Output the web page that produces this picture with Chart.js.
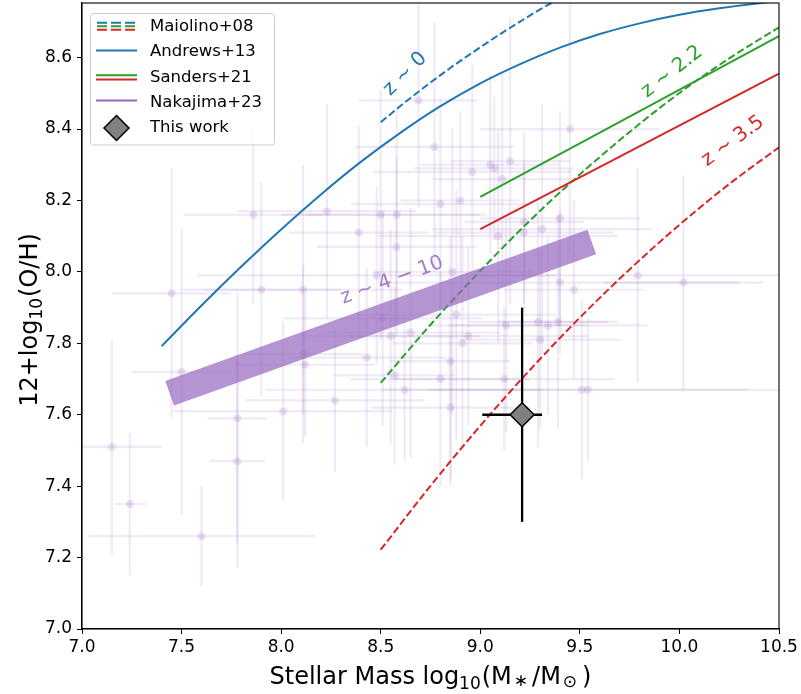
<!DOCTYPE html>
<html><head><meta charset="utf-8">
<script src="https://cdn.jsdelivr.net/npm/chart.js@4.4.0/dist/chart.umd.min.js"></script>
<style>html,body{margin:0;padding:0;background:#fff;}canvas{display:block;}</style>
</head><body>
<canvas id="c" width="801" height="694"></canvas>
<script>
// ---- tick labels ----
const xTicks = [7.0, 7.5, 8.0, 8.5, 9.0, 9.5, 10.0, 10.5];
const yTicks = [7.0, 7.2, 7.4, 7.6, 7.8, 8.0, 8.2, 8.4, 8.6];

// ---- Andrews+13 (z~0) ----
const andrewsX = [7.4, 7.6, 7.8, 8.0, 8.2, 8.4, 8.6, 8.8, 9.0, 9.2, 9.4, 9.6, 9.8, 10.0, 10.2, 10.5];
const andrewsY = [7.792, 7.906, 8.015, 8.119, 8.217, 8.308, 8.390, 8.464, 8.528, 8.582, 8.628, 8.666, 8.696, 8.720, 8.738, 8.759];

// ---- Maiolino+08 ----
const maiolinoZ0X = [8.5, 8.6, 8.7, 8.8, 8.9, 9.0, 9.1, 9.2, 9.3, 9.4];
const maiolinoZ0Y = [8.419, 8.465, 8.509, 8.551, 8.591, 8.629, 8.666, 8.701, 8.735, 8.766];
const maiolinoZ22X = [8.5, 8.75, 9.0, 9.25, 9.5, 9.75, 10.0, 10.25, 10.5];
const maiolinoZ22Y = [7.689, 7.852, 8.003, 8.144, 8.273, 8.392, 8.501, 8.598, 8.685];
const maiolinoZ35X = [8.5, 8.75, 9.0, 9.25, 9.5, 9.75, 10.0, 10.25, 10.5];
const maiolinoZ35Y = [7.222, 7.401, 7.569, 7.726, 7.872, 8.007, 8.132, 8.246, 8.349];

// ---- Sanders+21 ----
const sandersZ22X = [9.0, 10.5];
const sandersZ22Y = [8.21, 8.66];
const sandersZ35X = [9.0, 10.5];
const sandersZ35Y = [8.12, 8.555];

// ---- Nakajima+23 relation (z~4-10) ----
const nakajimaFitX = [7.44, 9.56];
const nakajimaFitY = [7.66, 8.084];

// ---- Nakajima+23 individual galaxies ----
const nakX = [7.15, 7.24, 7.60, 7.78, 7.78, 8.01, 8.27, 7.45, 7.50, 7.86, 8.23, 8.39, 8.58, 8.50, 8.58, 7.90, 8.11, 8.11, 8.12, 8.43,
              8.51, 8.62, 8.65, 8.57, 8.69, 9.45, 8.77, 8.96, 9.05, 9.07, 9.15, 9.11, 8.80, 8.90, 9.40, 9.31, 9.22, 9.09, 9.22, 9.79,
              9.47, 9.40, 8.86, 8.88, 8.91, 8.94, 8.85, 8.80, 9.13, 9.29, 9.34, 9.39, 9.30, 9.12, 9.51, 9.54, 8.85, 8.55, 10.02, 8.48];
const nakY = [7.51, 7.35, 7.26, 7.47, 7.59, 7.61, 7.64, 7.94, 7.72, 8.16, 8.17, 8.11, 8.07, 8.16, 8.16, 7.95, 7.95, 7.77, 7.74, 7.76,
              7.87, 7.67, 7.83, 7.71, 8.48, 8.40, 8.35, 8.28, 8.30, 8.29, 8.31, 8.26, 8.19, 8.20, 8.15, 8.12, 8.14, 8.10, 8.11, 7.99,
              7.95, 7.97, 8.00, 7.88, 7.80, 7.82, 7.75, 7.70, 7.85, 7.86, 7.85, 7.86, 7.81, 7.70, 7.67, 7.67, 7.62, 7.82, 7.97, 7.99];
const nakXerr = [0.25, 0.08, 0.57, 0.14, 0.15, 0.55, 0.45, 0.30, 0.25, 0.35, 0.45, 0.35, 0.40, 0.50, 0.45, 0.40, 0.50, 0.30, 0.35, 0.40,
                 0.50, 0.70, 0.45, 0.30, 0.30, 0.45, 0.40, 0.50, 0.35, 0.40, 0.30, 0.35, 0.45, 0.30, 0.40, 0.55, 0.30, 0.60, 0.45, 0.80,
                 0.35, 0.90, 0.40, 0.50, 0.35, 0.60, 0.30, 0.45, 0.40, 0.35, 0.50, 0.30, 0.40, 0.55, 1.00, 0.80, 0.40, 0.45, 0.40, 0.90];
const nakYerr = [0.30, 0.20, 0.14, 0.30, 0.35, 0.25, 0.20, 0.35, 0.40, 0.25, 0.30, 0.30, 0.25, 0.35, 0.30, 0.30, 0.35, 0.25, 0.20, 0.25,
                 0.30, 0.20, 0.35, 0.25, 0.30, 0.35, 0.35, 0.30, 0.25, 0.20, 0.40, 0.30, 0.30, 0.25, 0.30, 0.35, 0.25, 0.30, 0.20, 0.30,
                 0.25, 0.20, 0.40, 0.35, 0.30, 0.25, 0.35, 0.30, 0.30, 0.35, 0.25, 0.30, 0.25, 0.20, 0.25, 0.20, 0.20, 0.30, 0.30, 0.25];

// ---- This work ----
const thisX = [9.21];
const thisY = [7.60];
const thisXerrLo = [0.20];
const thisXerrHi = [0.10];
const thisYerrLo = [0.30];
const thisYerrHi = [0.30];

const FONT = "'DejaVu Sans', sans-serif";
const C_BLUE = '#1f77b4', C_GREEN = '#2ca02c', C_RED = '#d62728', C_PURPLE = '#9467bd';

const pts = (xs, ys) => xs.map((v, i) => ({x: v, y: ys[i]}));

function lineDs(label, xs, ys, color, dashed, order) {
  return {
    type: 'scatter', label, data: pts(xs, ys), showLine: true,
    borderColor: color, borderWidth: 2, borderDash: dashed ? [7.4, 3.2] : [],
    pointRadius: 0, pointHoverRadius: 0, cubicInterpolationMode: 'monotone', fill: false, order
  };
}

const errPlugin = {
  id: 'errbars',
  beforeDatasetDraw(chart, args) {
    const ds = chart.data.datasets[args.index];
    if (!ds.errXLo) return;
    const {ctx, chartArea: ca, scales: {x, y}} = chart;
    ctx.save();
    ctx.beginPath(); ctx.rect(ca.left, ca.top, ca.right - ca.left, ca.bottom - ca.top); ctx.clip();
    ctx.strokeStyle = ds.errColor; ctx.lineWidth = ds.errWidth; ctx.lineCap = 'butt';
    ds.data.forEach((p, i) => {
      const px = x.getPixelForValue(p.x), py = y.getPixelForValue(p.y);
      ctx.beginPath();
      ctx.moveTo(x.getPixelForValue(p.x - ds.errXLo[i]), py);
      ctx.lineTo(x.getPixelForValue(p.x + ds.errXHi[i]), py);
      ctx.stroke();
      ctx.beginPath();
      ctx.moveTo(px, y.getPixelForValue(p.y - ds.errYLo[i]));
      ctx.lineTo(px, y.getPixelForValue(p.y + ds.errYHi[i]));
      ctx.stroke();
    });
    ctx.restore();
  }
};

const annotations = [
  {text: 'z ∼ 0', x: 8.623, y: 8.554, rot: -45, color: C_BLUE},
  {text: 'z ∼ 2.2', x: 9.963, y: 8.560, rot: -38, color: C_GREEN},
  {text: 'z ∼ 3.5', x: 10.269, y: 8.366, rot: -36, color: C_RED},
  {text: 'z ∼ 4 − 10', x: 8.557, y: 7.976, rot: -20, color: 'rgba(148,103,189,0.85)'}
];

function drawRich(ctx, segs, cx, cy, rot) {
  ctx.save();
  ctx.translate(cx, cy); ctx.rotate(rot);
  ctx.textBaseline = 'alphabetic'; ctx.textAlign = 'left'; ctx.fillStyle = '#000';
  let total = 0;
  segs.forEach(s => { ctx.font = `${s.size}px ${FONT}`; s.w = ctx.measureText(s.t).width + (s.gap || 0) + (s.pre || 0); total += s.w; });
  let x = -total / 2;
  segs.forEach(s => { ctx.font = `${s.size}px ${FONT}`; ctx.fillText(s.t, x + (s.pre || 0), s.dy || 0); x += s.w; });
  ctx.restore();
}

const decorPlugin = {
  id: 'decor',
  afterDatasetsDraw(chart) {
    const {ctx, scales: {x, y}} = chart;
    ctx.save();
    ctx.font = `20px ${FONT}`;
    ctx.textAlign = 'center'; ctx.textBaseline = 'middle';
    annotations.forEach(a => {
      ctx.save();
      ctx.translate(x.getPixelForValue(a.x), y.getPixelForValue(a.y));
      ctx.rotate(a.rot * Math.PI / 180);
      ctx.fillStyle = a.color;
      ctx.fillText(a.text, 0, 0);
      ctx.restore();
    });
    ctx.restore();
  },
  afterDraw(chart) {
    const {ctx, chartArea: ca} = chart;
    ctx.save();
    ctx.strokeStyle = '#000'; ctx.lineWidth = 1.1;
    ctx.strokeRect(ca.left, ca.top, ca.right - ca.left, ca.bottom - ca.top);

    drawRich(ctx, [
      {t: 'Stellar Mass log', size: 24},
      {t: '10', size: 17, dy: 5, gap: 1},
      {t: '(M', size: 24},
      {t: '∗', size: 17, dy: 2, pre: 2, gap: 4},
      {t: '/M', size: 24},
      {t: '⊙', size: 17, dy: 3, pre: 2, gap: 5},
      {t: ')', size: 24}
    ], (ca.left + ca.right) / 2, 684, 0);
    drawRich(ctx, [
      {t: '12+log', size: 24},
      {t: '10', size: 17, dy: 5, gap: 1},
      {t: '(O/H)', size: 24}
    ], 37, (ca.top + ca.bottom) / 2 + 4, -Math.PI / 2);

    const bx = 90.5, by = 13.5, bw = 184, bh = 131.5, r = 3;
    ctx.beginPath();
    ctx.moveTo(bx + r, by); ctx.lineTo(bx + bw - r, by); ctx.arcTo(bx + bw, by, bx + bw, by + r, r);
    ctx.lineTo(bx + bw, by + bh - r); ctx.arcTo(bx + bw, by + bh, bx + bw - r, by + bh, r);
    ctx.lineTo(bx + r, by + bh); ctx.arcTo(bx, by + bh, bx, by + bh - r, r);
    ctx.lineTo(bx, by + r); ctx.arcTo(bx, by, bx + r, by, r); ctx.closePath();
    ctx.fillStyle = 'rgba(255,255,255,0.8)'; ctx.fill();
    ctx.strokeStyle = '#cccccc'; ctx.lineWidth = 1; ctx.stroke();

    const hx0 = 96, hx1 = 137;
    ctx.lineWidth = 2;
    [[C_BLUE, 22.7], [C_GREEN, 26.2], [C_RED, 29.7]].forEach(([c, yy]) => {
      ctx.strokeStyle = c; ctx.setLineDash([10, 4]);
      ctx.beginPath(); ctx.moveTo(hx0 + 1, yy); ctx.lineTo(hx1, yy); ctx.stroke();
    });
    ctx.setLineDash([]);
    ctx.strokeStyle = C_BLUE; ctx.beginPath(); ctx.moveTo(hx0, 50.5); ctx.lineTo(hx1, 50.5); ctx.stroke();
    ctx.strokeStyle = C_GREEN; ctx.beginPath(); ctx.moveTo(hx0, 75.2); ctx.lineTo(hx1, 75.2); ctx.stroke();
    ctx.strokeStyle = C_RED; ctx.beginPath(); ctx.moveTo(hx0, 79.6); ctx.lineTo(hx1, 79.6); ctx.stroke();
    ctx.strokeStyle = C_PURPLE; ctx.beginPath(); ctx.moveTo(hx0, 100.5); ctx.lineTo(hx1, 100.5); ctx.stroke();
    const dx = 116.5, dy = 128, dr = 12.5;
    ctx.beginPath(); ctx.moveTo(dx, dy - dr); ctx.lineTo(dx + dr, dy); ctx.lineTo(dx, dy + dr); ctx.lineTo(dx - dr, dy); ctx.closePath();
    ctx.fillStyle = '#808080'; ctx.fill(); ctx.strokeStyle = '#000'; ctx.lineWidth = 1.5; ctx.stroke();

    ctx.fillStyle = '#000'; ctx.font = `16.5px ${FONT}`; ctx.textAlign = 'left'; ctx.textBaseline = 'middle';
    const labels = ['Maiolino+08', 'Andrews+13', 'Sanders+21', 'Nakajima+23', 'This work'];
    const ly = [27, 52, 77.5, 103, 128];
    labels.forEach((t, i) => ctx.fillText(t, 150, ly[i]));
    ctx.restore();
  }
};

const datasets = [
  {
    type: 'scatter', label: 'This work', data: pts(thisX, thisY),
    pointStyle: 'rectRot', pointRadius: 12, pointHoverRadius: 12,
    backgroundColor: '#808080', borderColor: '#000', borderWidth: 1.5,
    errXLo: thisXerrLo, errXHi: thisXerrHi, errYLo: thisYerrLo, errYHi: thisYerrHi,
    errColor: '#000', errWidth: 2.3, order: 0
  },
  {
    type: 'scatter', label: 'Nakajima+23 fit', data: pts(nakajimaFitX, nakajimaFitY), showLine: true,
    borderColor: 'rgba(148,103,189,0.7)', borderWidth: 26, borderCapStyle: 'butt',
    pointRadius: 0, pointHoverRadius: 0, fill: false, order: 1
  },
  lineDs('Andrews+13', andrewsX, andrewsY, C_BLUE, false, 2),
  lineDs('Sanders+21 z2.2', sandersZ22X, sandersZ22Y, C_GREEN, false, 3),
  lineDs('Sanders+21 z3.5', sandersZ35X, sandersZ35Y, C_RED, false, 4),
  lineDs('Maiolino+08 z0', maiolinoZ0X, maiolinoZ0Y, C_BLUE, true, 5),
  lineDs('Maiolino+08 z2.2', maiolinoZ22X, maiolinoZ22Y, C_GREEN, true, 6),
  lineDs('Maiolino+08 z3.5', maiolinoZ35X, maiolinoZ35Y, C_RED, true, 7),
  {
    type: 'scatter', label: 'Nakajima+23', data: pts(nakX, nakY),
    pointStyle: 'circle', pointRadius: 4, pointHoverRadius: 4,
    backgroundColor: 'rgba(148,103,189,0.2)', borderWidth: 0,
    errXLo: nakXerr, errXHi: nakXerr, errYLo: nakYerr, errYHi: nakYerr,
    errColor: 'rgba(148,103,189,0.14)', errWidth: 2.2, order: 10
  }
];

new Chart(document.getElementById('c'), {
  type: 'scatter',
  data: {datasets},
  options: {
    responsive: false, devicePixelRatio: 1, animation: false,
    layout: {autoPadding: false, padding: {top: 3, right: 22, left: 0, bottom: 0}},
    plugins: {legend: {display: false}, tooltip: {enabled: false}},
    scales: {
      x: {
        type: 'linear', min: 7.0, max: 10.5,
        afterBuildTicks: s => { s.ticks = xTicks.map(v => ({value: v})); },
        afterFit: s => { s.height = 65; s.paddingLeft = 0; s.paddingRight = 0; },
        ticks: {color: '#000', font: {family: FONT, size: 17}, padding: 3, maxRotation: 0,
                callback: v => Number(v).toFixed(1)},
        grid: {drawOnChartArea: false, drawTicks: true, tickLength: 5, color: '#000', lineWidth: 1},
        border: {display: true, color: '#000', width: 1.1},
        title: {display: false}
      },
      y: {
        type: 'linear', min: 7.0, max: 8.753,
        afterBuildTicks: s => { s.ticks = yTicks.map(v => ({value: v})); },
        afterFit: s => { s.width = 82; s.paddingTop = 0; s.paddingBottom = 0; },
        ticks: {color: '#000', font: {family: FONT, size: 17}, padding: 5,
                callback: v => Number(v).toFixed(1)},
        grid: {drawOnChartArea: false, drawTicks: true, tickLength: 5, color: '#000', lineWidth: 1},
        border: {display: true, color: '#000', width: 1.1},
        title: {display: false}
      }
    }
  },
  plugins: [errPlugin, decorPlugin]
});
</script>
</body></html>
